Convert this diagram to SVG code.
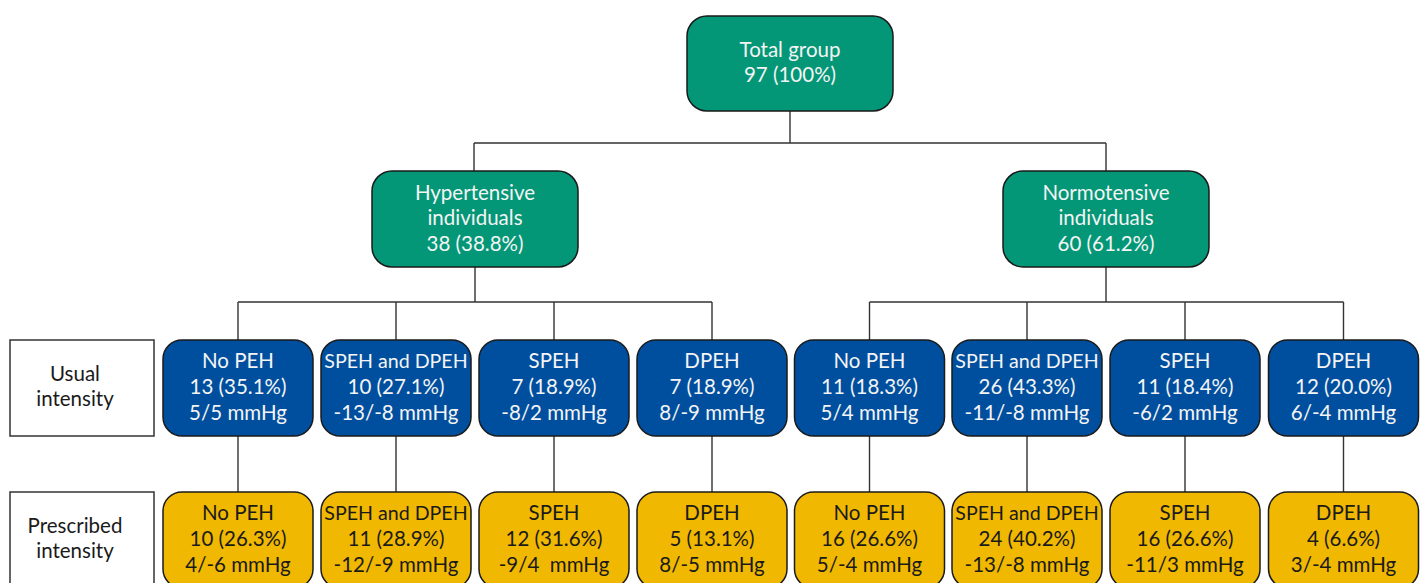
<svg xmlns="http://www.w3.org/2000/svg" width="1424" height="583" viewBox="0 0 1424 583">
<style>
text{font-family:Lato,"Open Sans","Liberation Sans",sans-serif;font-size:20.5px;text-anchor:middle}
text.s{font-size:19.6px}
.g{fill:#039777;stroke:#1a1a1a;stroke-width:1.5}
.b{fill:#004f9f;stroke:#1a1a1a;stroke-width:1.5}
.y{fill:#f0b800;stroke:#1a1a1a;stroke-width:1.5}
.l{fill:#fff;stroke:#333;stroke-width:1.5}
.w{fill:#f4f4f4}
.k{fill:#1a1a1a}
.c{fill:none;stroke:#333;stroke-width:1.4}
</style>
<rect width="1424" height="583" fill="#fff"/>
<g id="connectors" class="c">
<path d="M790 111V143M474 143H1106M474 143V171M1106 143V171"/>
<path d="M475 267V302M238 302H712M238 302V340M396 302V340M554 302V340M712 302V340"/>
<path d="M1106 267V302M869.5 302H1343.5M869.5 302V340M1027 302V340M1185 302V340M1343.5 302V340"/>
<path d="M238 436V492M396 436V492M554 436V492M712 436V492M869.5 436V492M1027 436V492M1185 436V492M1343.5 436V492"/>
</g>
<g id="total"><rect class="g" x="687" y="16" width="206" height="95" rx="20"/><text class="w" x="790" y="57">Total group</text><text class="w" x="790" y="82">97 (100%)</text></g>
<g id="hyper"><rect class="g" x="372" y="171" width="206" height="96" rx="20"/><text class="w" x="475" y="200">Hypertensive</text><text class="w" x="475" y="225">individuals</text><text class="w" x="475" y="251">38 (38.8%)</text></g>
<g id="normo"><rect class="g" x="1003" y="171" width="206" height="96" rx="20"/><text class="w" x="1106" y="200">Normotensive</text><text class="w" x="1106" y="225">individuals</text><text class="w" x="1106" y="251">60 (61.2%)</text></g>
<g id="label-usual"><rect class="l" x="10" y="340" width="144" height="96"/><text class="k" x="75" y="381">Usual</text><text class="k" x="75" y="406">intensity</text></g>
<g id="label-prescribed"><rect class="l" x="10" y="492" width="144" height="96"/><text class="k" x="75" y="533">Prescribed</text><text class="k" x="75" y="558">intensity</text></g>
<g id="u1"><rect class="b" x="163" y="340" width="150" height="96" rx="19"/><text class="w" x="238" y="368">No PEH</text><text class="w" x="238" y="394">13 (35.1%)</text><text class="w" x="238" y="420">5/5 mmHg</text></g>
<g id="u2"><rect class="b" x="321" y="340" width="150" height="96" rx="19"/><text class="w s" x="396" y="368">SPEH and DPEH</text><text class="w" x="396" y="394">10 (27.1%)</text><text class="w" x="396" y="420">-13/-8 mmHg</text></g>
<g id="u3"><rect class="b" x="479" y="340" width="150" height="96" rx="19"/><text class="w" x="554" y="368">SPEH</text><text class="w" x="554" y="394">7 (18.9%)</text><text class="w" x="554" y="420">-8/2 mmHg</text></g>
<g id="u4"><rect class="b" x="637" y="340" width="150" height="96" rx="19"/><text class="w" x="712" y="368">DPEH</text><text class="w" x="712" y="394">7 (18.9%)</text><text class="w" x="712" y="420">8/-9 mmHg</text></g>
<g id="u5"><rect class="b" x="794.5" y="340" width="150" height="96" rx="19"/><text class="w" x="869.5" y="368">No PEH</text><text class="w" x="869.5" y="394">11 (18.3%)</text><text class="w" x="869.5" y="420">5/4 mmHg</text></g>
<g id="u6"><rect class="b" x="952" y="340" width="150" height="96" rx="19"/><text class="w s" x="1027" y="368">SPEH and DPEH</text><text class="w" x="1027" y="394">26 (43.3%)</text><text class="w" x="1027" y="420">-11/-8 mmHg</text></g>
<g id="u7"><rect class="b" x="1110" y="340" width="150" height="96" rx="19"/><text class="w" x="1185" y="368">SPEH</text><text class="w" x="1185" y="394">11 (18.4%)</text><text class="w" x="1185" y="420">-6/2 mmHg</text></g>
<g id="u8"><rect class="b" x="1268.5" y="340" width="150" height="96" rx="19"/><text class="w" x="1343.5" y="368">DPEH</text><text class="w" x="1343.5" y="394">12 (20.0%)</text><text class="w" x="1343.5" y="420">6/-4 mmHg</text></g>
<g id="p1"><rect class="y" x="163" y="492" width="150" height="96" rx="19"/><text class="k" x="238" y="520">No PEH</text><text class="k" x="238" y="546">10 (26.3%)</text><text class="k" x="238" y="572">4/-6 mmHg</text></g>
<g id="p2"><rect class="y" x="321" y="492" width="150" height="96" rx="19"/><text class="k s" x="396" y="520">SPEH and DPEH</text><text class="k" x="396" y="546">11 (28.9%)</text><text class="k" x="396" y="572">-12/-9 mmHg</text></g>
<g id="p3"><rect class="y" x="479" y="492" width="150" height="96" rx="19"/><text class="k" x="554" y="520">SPEH</text><text class="k" x="554" y="546">12 (31.6%)</text><text class="k" x="554" y="572" xml:space="preserve">-9/4  mmHg</text></g>
<g id="p4"><rect class="y" x="637" y="492" width="150" height="96" rx="19"/><text class="k" x="712" y="520">DPEH</text><text class="k" x="712" y="546">5 (13.1%)</text><text class="k" x="712" y="572">8/-5 mmHg</text></g>
<g id="p5"><rect class="y" x="794.5" y="492" width="150" height="96" rx="19"/><text class="k" x="869.5" y="520">No PEH</text><text class="k" x="869.5" y="546">16 (26.6%)</text><text class="k" x="869.5" y="572">5/-4 mmHg</text></g>
<g id="p6"><rect class="y" x="952" y="492" width="150" height="96" rx="19"/><text class="k s" x="1027" y="520">SPEH and DPEH</text><text class="k" x="1027" y="546">24 (40.2%)</text><text class="k" x="1027" y="572">-13/-8 mmHg</text></g>
<g id="p7"><rect class="y" x="1110" y="492" width="150" height="96" rx="19"/><text class="k" x="1185" y="520">SPEH</text><text class="k" x="1185" y="546">16 (26.6%)</text><text class="k" x="1185" y="572">-11/3 mmHg</text></g>
<g id="p8"><rect class="y" x="1268.5" y="492" width="150" height="96" rx="19"/><text class="k" x="1343.5" y="520">DPEH</text><text class="k" x="1343.5" y="546">4 (6.6%)</text><text class="k" x="1343.5" y="572">3/-4 mmHg</text></g>
</svg>
